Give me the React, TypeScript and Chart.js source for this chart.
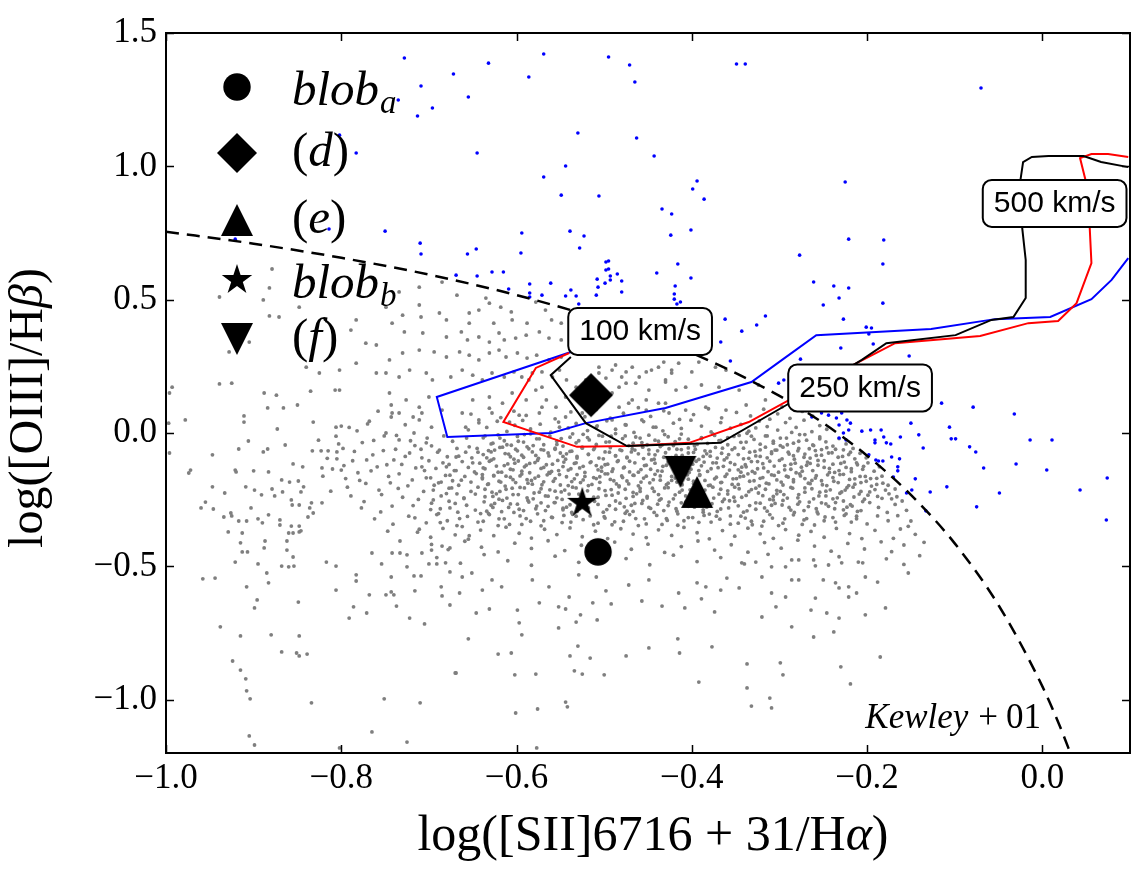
import React, { useEffect, useRef } from "react";
import { Chart, registerables } from "chart.js";

Chart.register(...registerables);

const SERIF = "'Liberation Serif', 'Times New Roman', serif";
const SANS = "'Liberation Sans', Arial, sans-serif";

// Axis ticks
const xTicks = [-1.0, -0.8, -0.6, -0.4, -0.2, 0.0];
const yTicks = [-1.0, -0.5, 0.0, 0.5, 1.0, 1.5];

// Kewley et al. (2001) maximum-starburst line for [SII]/Halpha
const kewleyX = [-1.0, -0.9, -0.8, -0.7, -0.6, -0.5, -0.4, -0.3, -0.25, -0.2, -0.15, -0.1, -0.05, 0.0, 0.02, 0.035];
const kewleyY = [0.755, 0.71, 0.657, 0.594, 0.517, 0.422, 0.3, 0.139, 0.037, -0.085, -0.232, -0.414, -0.646, -0.95, -1.1, -1.226];
const kewleyLabel = { x: -0.202, y: -1.106 };

// Shock model tracks (100 -> 500 km/s)
const shockBlack: [number, number][] = [
  [-0.538, 0.285], [-0.561, 0.217], [-0.521, 0.037], [-0.474, -0.049], [-0.367, -0.037], [-0.292, 0.105],
  [-0.206, 0.274], [-0.178, 0.337], [-0.099, 0.367], [-0.058, 0.424], [-0.033, 0.435], [-0.019, 0.506],
  [-0.019, 0.649], [-0.023, 0.769], [-0.025, 0.949], [-0.022, 1.016], [-0.012, 1.035], [0.007, 1.039],
  [0.047, 1.039], [0.067, 1.016], [0.098, 0.997],
];
const shockRed: [number, number][] = [
  [-0.54, 0.3], [-0.578, 0.244], [-0.615, 0.041], [-0.531, -0.052], [-0.474, -0.049], [-0.403, -0.037],
  [-0.335, 0.041], [-0.212, 0.262], [-0.168, 0.337], [-0.071, 0.364], [-0.016, 0.412], [0.018, 0.42],
  [0.039, 0.487], [0.056, 0.637], [0.054, 0.772], [0.049, 0.952], [0.043, 1.031], [0.056, 1.046],
  [0.075, 1.046], [0.098, 1.035],
];
const shockBlue: [number, number][] = [
  [-0.538, 0.304], [-0.691, 0.135], [-0.679, -0.015], [-0.56, 0.0], [-0.521, 0.037], [-0.43, 0.094],
  [-0.332, 0.191], [-0.297, 0.274], [-0.258, 0.367], [-0.127, 0.39], [-0.054, 0.427], [0.009, 0.435],
  [0.056, 0.502], [0.079, 0.574], [0.098, 0.656],
];

const velocityText = ["100 km/s", "250 km/s", "500 km/s"];
const velocityX = [-0.459, -0.208, 0.014];
const velocityY = [0.381, 0.169, 0.861];

// Individual regions
const regionNames = ["blob_a", "(d)", "(e)", "blob_b", "(f)"];
const regionX = [-0.507, -0.515, -0.394, -0.525, -0.413];
const regionY = [-0.446, 0.142, -0.221, -0.262, -0.146];

// Galaxies above the Kewley line
const agnPts: [number, number][] = [
  [-0.728,1.406],[-0.709,1.301],[-0.735,1.249],[-0.713,1.189],[-0.696,1.219],[-0.672,1.346],[-0.655,1.26],[-0.632,1.387],
  [-0.645,1.05],[-0.586,1.335],[-0.569,1.421],[-0.495,1.41],[-0.471,1.38],[-0.465,1.316],[-0.53,1.125],[-0.463,1.106],
  [-0.443,1.039],[-0.569,0.96],[-0.544,1.001],[-0.549,0.892],[-0.506,0.889],[-0.399,0.915],[-0.394,0.945],[-0.386,0.877],
  [-0.434,0.84],[-0.423,0.821],[-0.401,0.761],[-0.424,0.742],[-0.349,1.384],[-0.339,1.384],[-0.71,0.712],[-0.709,0.671],
  [-0.656,0.671],[-0.646,0.69],[-0.594,0.75],[-0.595,0.675],[-0.539,0.757],[-0.523,0.739],[-0.528,0.694],[-0.669,0.592],
  [-0.645,0.589],[-0.628,0.604],[-0.615,0.604],[-0.609,0.54],[-0.585,0.559],[-0.585,0.525],[-0.585,0.51],[-0.571,0.517],
  [-0.561,0.562],[-0.544,0.514],[-0.538,0.536],[-0.532,0.514],[-0.529,0.484],[-0.509,0.517],[-0.508,0.577],[-0.507,0.547],
  [-0.499,0.562],[-0.498,0.641],[-0.495,0.645],[-0.498,0.611],[-0.495,0.615],[-0.493,0.574],[-0.493,0.589],[-0.485,0.596],
  [-0.48,0.57],[-0.48,0.529],[-0.44,0.6],[-0.416,0.634],[-0.401,0.581],[-0.419,0.551],[-0.42,0.521],[-0.42,0.502],
  [-0.417,0.484],[-0.413,0.491],[-0.362,0.427],[-0.343,0.382],[-0.326,0.405],[-0.316,0.439],[-0.367,0.341],[-0.802,1.117],
  [-0.783,1.05],[-0.814,0.765],[-0.75,0.757],[-0.921,0.727],[-0.07,1.294],[-0.225,0.941],[-0.221,0.727],[-0.181,0.724],
  [-0.277,0.667],[-0.182,0.634],[-0.261,0.566],[-0.238,0.551],[-0.221,0.544],[-0.232,0.506],[-0.25,0.48],[-0.182,0.487],
  [-0.227,0.427],[-0.201,0.397],[-0.195,0.394],[-0.198,0.371],[-0.193,0.334],[-0.23,0.319],[-0.152,0.289],[-0.276,0.277],
  [-0.356,0.27],[-0.301,0.187],[-0.295,0.199],[-0.263,0.06],[-0.252,0.075],[-0.244,0.067],[-0.235,0.056],[-0.229,0.075],
  [-0.232,0.03],[-0.223,0.049],[-0.219,0.037],[-0.221,0.011],[-0.227,0.0],[-0.232,-0.019],[-0.224,-0.026],[-0.206,0.007],
  [-0.196,0.011],[-0.184,0.011],[-0.191,-0.026],[-0.191,-0.037],[-0.181,-0.015],[-0.178,-0.037],[-0.173,-0.041],[-0.162,-0.015],
  [-0.15,0.037],[-0.141,-0.007],[-0.136,-0.056],[-0.115,0.112],[-0.106,0.022],[-0.104,-0.022],[-0.099,-0.022],[-0.079,0.097],
  [-0.083,-0.052],[-0.076,-0.071],[-0.032,0.071],[-0.014,-0.026],[-0.198,-0.082],[-0.19,-0.101],[-0.187,-0.105],[-0.182,-0.105],
  [-0.172,-0.09],[-0.163,-0.097],[-0.165,-0.127],[-0.165,-0.142],[-0.17,-0.165],[-0.145,-0.172],[-0.155,-0.225],[-0.149,-0.214],
  [-0.128,-0.221],[-0.109,-0.202],[-0.133,-0.292],[-0.075,-0.277],[-0.067,-0.131],[-0.049,-0.225],[-0.03,-0.116],[0.011,-0.026],
  [0.005,-0.139],[0.043,-0.214],[0.074,-0.169],[0.073,-0.326],
];

// Star-forming galaxies: outer left halo
const sfLeftHalo: [number, number][] = [
  [-0.996,0.15],[-0.993,0.172],[-0.939,0.184],[-0.925,0.187],[-0.888,0.15],[-0.874,0.142],[-0.884,0.094],[-0.866,0.094],
  [-0.85,0.105],[-0.835,0.157],[-0.807,0.161],[-0.802,0.161],[-0.978,0.049],[-0.997,0.037],[-0.911,0.064],[-0.911,0.041],
  [-0.832,0.041],[-0.873,0.015],[-0.806,0.022],[-0.8,0.026],[-0.77,0.034],[-0.758,0.082],[-0.742,0.075],[-0.743,0.105],
  [-0.718,0.06],[-0.708,0.075],[-0.996,-0.075],[-0.947,-0.082],[-0.906,-0.03],[-0.917,-0.06],[-0.864,-0.045],[-0.889,-0.071],
  [-0.884,-0.06],[-0.833,-0.067],[-0.823,-0.067],[-0.815,-0.067],[-0.805,-0.071],[-0.805,-0.097],[-0.974,-0.15],[-0.972,-0.139],
  [-0.921,-0.139],[-0.92,-0.146],[-0.9,-0.142],[-0.883,-0.146],[-0.855,-0.116],[-0.844,-0.127],[-0.822,-0.131],[-0.81,-0.135],
  [-0.8,-0.139],[-0.947,-0.202],[-0.933,-0.225],[-0.909,-0.202],[-0.899,-0.214],[-0.891,-0.232],[-0.879,-0.21],[-0.867,-0.221],
  [-0.876,-0.236],[-0.868,-0.176],[-0.859,-0.184],[-0.849,-0.18],[-0.843,-0.202],[-0.846,-0.221],[-0.857,-0.251],[-0.856,-0.27],
  [-0.848,-0.27],[-0.96,-0.281],[-0.955,-0.259],[-0.946,-0.285],[-0.934,-0.315],[-0.926,-0.3],[-0.925,-0.311],[-0.917,-0.33],
  [-0.908,-0.33],[-0.895,-0.322],[-0.903,-0.281],[-0.883,-0.307],[-0.89,-0.337],[-0.87,-0.326],[-0.87,-0.345],[-0.857,-0.349],
  [-0.848,-0.349],[-0.846,-0.367],[-0.838,-0.315],[-0.832,-0.3],[-0.836,-0.281],[-0.834,-0.262],[-0.822,-0.262],[-0.929,-0.371],
  [-0.913,-0.375],[-0.86,-0.375],[-0.855,-0.375],[-0.848,-0.371],[-0.915,-0.412],[-0.887,-0.405],[-0.888,-0.431],[-0.913,-0.446],
  [-0.907,-0.446],[-0.921,-0.484],[-0.862,-0.405],[-0.862,-0.439],[-0.855,-0.465],[-0.868,-0.499],[-0.86,-0.502],[-0.854,-0.499],
  [-0.895,-0.491],[-0.958,-0.547],[-0.944,-0.544],[-0.885,-0.525],[-0.908,-0.577],[-0.883,-0.562],[-0.896,-0.626],[-0.899,-0.656],
  [-0.849,-0.634],[-0.938,-0.727],[-0.915,-0.761],[-0.88,-0.757],[-0.848,-0.761],[-0.868,-0.821],[-0.851,-0.825],[-0.848,-0.836],
  [-0.839,-0.829],[-0.924,-0.855],[-0.915,-0.889],[-0.909,-0.922],[-0.908,-0.967],[-0.904,-0.997],[-0.834,-1.012],[-0.905,-1.136],
  [-0.899,-1.17],[-0.802,-1.181],[-0.765,-1.121],[-0.725,-1.159],[-0.751,-0.997],[-0.71,-1.012],[-0.67,-0.9],[-0.705,-0.716],
  [-0.722,-0.694],[-0.771,-0.675],[-0.791,-0.694],[-0.786,-0.652],[-0.737,-0.649],[-0.806,-0.589],[-0.783,-0.532],[-0.783,-0.555],
  [-0.768,-0.607],[-0.749,-0.607],[-0.743,-0.596],[-0.74,-0.607],[-0.716,-0.592],[-0.686,-0.577],[-0.685,-0.611],[-0.676,-0.645],
  [-0.717,-0.536],[-0.709,-0.536],[-0.743,-0.54],[-0.817,-0.484],[-0.806,-0.499],[-0.754,-0.491],[-0.725,-0.502],[-0.7,-0.491],
  [-0.691,-0.491],[-0.681,-0.487],[-0.676,-0.521],[-0.662,-0.54],[-0.765,-0.45],[-0.742,-0.45],[-0.733,-0.45],[-0.725,-0.457],
  [-0.708,-0.45],[-0.697,-0.439],[-0.685,-0.424],[-0.676,-0.431],
];

// Star-forming galaxies: upper spur under the Kewley line
const sfUpper: [number, number][] = [
  [-0.939,0.51],[-0.879,0.615],[-0.882,0.544],[-0.889,0.499],[-0.848,0.472],[-0.871,0.435],[-0.882,0.439],[-0.905,0.341],
  [-0.928,0.304],[-0.783,0.424],[-0.789,0.386],[-0.772,0.337],[-0.76,0.33],[-0.783,0.262],[-0.76,0.225],[-0.825,0.225],
  [-0.802,0.236],[-0.84,0.247],[-0.711,0.547],
  [-0.734,0.529],[-0.685,0.566],[-0.668,0.517],[-0.635,0.506],[-0.631,0.487],[-0.643,0.461],[-0.654,0.45],[-0.618,0.472],
  [-0.606,0.454],[-0.578,0.491],[-0.567,0.461],[-0.56,0.424],[-0.549,0.412],[-0.588,0.412],[-0.605,0.424],[-0.626,0.412],
  [-0.654,0.412],[-0.68,0.424],[-0.688,0.45],[-0.709,0.435],[-0.711,0.48],[-0.73,0.442],[-0.742,0.412],[-0.749,0.472],
  [-0.728,0.379],[-0.707,0.375],[-0.68,0.36],[-0.663,0.379],[-0.656,0.349],[-0.643,0.36],[-0.631,0.341],[-0.62,0.375],
  [-0.614,0.349],[-0.601,0.356],[-0.589,0.367],[-0.574,0.379],[-0.563,0.356],[-0.549,0.349],[-0.73,0.3],[-0.745,0.274],
  [-0.711,0.311],[-0.694,0.304],[-0.68,0.285],[-0.665,0.304],[-0.654,0.292],[-0.643,0.274],[-0.631,0.3],[-0.62,0.311],
  [-0.612,0.285],[-0.599,0.3],[-0.588,0.281],[-0.577,0.292],[-0.563,0.274],[-0.549,0.285],[-0.749,0.225],[-0.734,0.21],
  [-0.722,0.236],[-0.703,0.225],[-0.696,0.199],[-0.675,0.21],[-0.662,0.236],[-0.65,0.217],[-0.639,0.199],[-0.628,0.225],
  [-0.614,0.21],[-0.603,0.229],[-0.594,0.21],[-0.582,0.225],[-0.571,0.229],[-0.559,0.21],[-0.551,0.236],[-0.543,0.199],
  [-0.745,0.15],[-0.726,0.124],[-0.734,0.075],[-0.711,0.097],[-0.7,0.135],[-0.685,0.086],[-0.711,0.049],[-0.743,0.06],
  [-0.749,0.0],[-0.734,-0.026],[-0.717,0.0],[-0.697,0.022],[-0.703,-0.037],[-0.688,-0.064],[-0.722,-0.075],[-0.74,-0.101],
  [-0.708,-0.127],[-0.68,-0.127],[-0.669,-0.09],[-0.654,-0.052],[-0.658,0.022],[-0.643,0.049],[-0.662,0.075],[-0.65,0.124],
  [-0.631,0.135],[-0.616,0.112],[-0.605,0.15],[-0.628,0.075],[-0.608,0.041],[-0.597,0.067],[-0.589,0.124],[-0.578,0.161],
  [-0.586,0.199],[-0.571,0.172],[-0.566,0.124],[-0.574,0.075],[-0.555,0.097],[-0.544,0.135],[-0.544,0.06],[-0.551,0.022],
  [-0.532,0.172],[-0.521,0.199],[-0.506,0.225],[-0.491,0.236],[-0.48,0.21],[-0.468,0.247],[-0.452,0.229],[-0.438,0.247],
  [-0.423,0.236],[-0.483,0.172],[-0.464,0.187],[-0.449,0.161],[-0.43,0.199],[-0.418,0.161],[-0.483,0.097],[-0.468,0.124],
  [-0.452,0.086],[-0.438,0.112],[-0.426,0.075],[-0.491,0.049],[-0.475,0.03],[-0.457,0.049],[-0.441,0.022],[-0.509,0.022],
  [-0.525,0.075],
  [-0.432,0.266],[-0.415,0.262],[-0.373,0.247],[-0.361,0.236],[-0.324,0.18],[-0.346,0.161],[-0.369,0.172],[-0.389,0.18],
  [-0.407,0.172],[-0.43,0.191],[-0.316,0.124],[-0.338,0.105],[-0.361,0.086],[-0.384,0.097],[-0.407,0.086],[-0.43,0.112],
  [-0.452,0.124],[-0.472,0.112],[-0.491,0.15],[-0.475,0.187],[-0.498,0.206],[-0.506,0.247],[-0.487,0.255],[-0.475,0.229],
  [-0.46,0.21],[-0.446,0.236],[-0.423,0.225],[-0.4,0.229],[-0.392,0.266],
];

// Star-forming galaxies: main sequence band
const sfCore: [number, number][] = [
  [-0.652,0.071],[-0.631,0.093],[-0.618,0.058],[-0.603,0.082],[-0.589,0.066],[-0.571,0.097],[-0.556,0.053],[-0.538,0.079],
  [-0.522,0.061],[-0.509,0.088],[-0.493,0.056],[-0.478,0.074],[-0.461,0.095],[-0.447,0.062],[-0.432,0.083],[-0.414,0.051],
  [-0.398,0.069],[-0.381,0.091],[-0.366,0.057],[-0.349,0.077],[-0.333,0.064],[-0.318,0.089],[-0.302,0.072],[-0.288,0.055],
  [-0.274,0.081],[-0.262,0.063],[-0.311,0.052],[-0.297,0.098],[-0.283,0.092],
  [-0.655,0.012],[-0.643,0.038],[-0.634,0.021],[-0.622,0.044],[-0.611,0.006],[-0.602,0.029],[-0.593,0.047],[-0.584,0.015],
  [-0.573,0.033],[-0.561,0.003],[-0.552,0.041],[-0.541,0.019],[-0.532,0.036],[-0.519,0.009],[-0.508,0.027],[-0.497,0.046],
  [-0.487,0.014],[-0.476,0.031],[-0.466,0.002],[-0.455,0.043],[-0.444,0.022],[-0.433,0.008],[-0.421,0.037],[-0.412,0.017],
  [-0.401,0.048],[-0.389,0.026],[-0.378,0.004],[-0.367,0.039],[-0.356,0.018],[-0.344,0.032],[-0.335,0.007],[-0.323,0.045],
  [-0.314,0.024],[-0.302,0.011],[-0.293,0.039],[-0.281,0.021],[-0.272,0.048],[-0.263,0.005],[-0.254,0.028],[-0.246,0.014],
  [-0.327,0.019],[-0.286,0.002],
  [-0.638,-0.018],[-0.629,-0.041],[-0.621,-0.007],[-0.614,-0.029],[-0.606,-0.046],[-0.599,-0.013],[-0.592,-0.034],[-0.584,-0.003],
  [-0.577,-0.022],[-0.569,-0.044],[-0.562,-0.011],[-0.554,-0.031],[-0.547,-0.049],[-0.539,-0.016],[-0.532,-0.037],[-0.524,-0.005],
  [-0.517,-0.026],[-0.509,-0.043],[-0.502,-0.012],[-0.494,-0.033],[-0.487,-0.002],[-0.479,-0.021],[-0.472,-0.047],[-0.464,-0.015],
  [-0.457,-0.036],[-0.449,-0.008],[-0.442,-0.027],[-0.434,-0.045],[-0.427,-0.014],[-0.419,-0.032],[-0.412,-0.004],[-0.404,-0.023],
  [-0.397,-0.048],[-0.389,-0.017],[-0.382,-0.039],[-0.374,-0.009],[-0.367,-0.028],[-0.359,-0.044],[-0.352,-0.013],[-0.344,-0.035],
  [-0.337,-0.001],[-0.329,-0.024],[-0.322,-0.042],[-0.314,-0.011],[-0.307,-0.031],[-0.299,-0.047],[-0.292,-0.019],[-0.284,-0.038],
  [-0.277,-0.006],[-0.269,-0.027],[-0.262,-0.045],[-0.254,-0.015],[-0.247,-0.033],[-0.239,-0.049],[-0.232,-0.021],[-0.224,-0.041],
  [-0.216,-0.058],
  [-0.658,-0.072],[-0.651,-0.093],[-0.645,-0.058],[-0.638,-0.081],[-0.632,-0.066],[-0.626,-0.097],[-0.619,-0.054],[-0.613,-0.077],
  [-0.607,-0.089],[-0.601,-0.061],[-0.594,-0.083],[-0.588,-0.052],[-0.582,-0.071],[-0.575,-0.095],[-0.569,-0.064],[-0.563,-0.086],
  [-0.556,-0.057],[-0.55,-0.075],[-0.544,-0.098],[-0.537,-0.068],[-0.531,-0.088],[-0.525,-0.053],[-0.518,-0.079],[-0.512,-0.062],
  [-0.506,-0.094],[-0.499,-0.071],[-0.493,-0.055],[-0.487,-0.085],[-0.48,-0.066],[-0.474,-0.091],[-0.468,-0.059],[-0.461,-0.078],
  [-0.455,-0.096],[-0.449,-0.063],[-0.442,-0.082],[-0.436,-0.051],[-0.43,-0.074],[-0.423,-0.092],[-0.417,-0.061],[-0.411,-0.084],
  [-0.404,-0.056],[-0.398,-0.073],[-0.392,-0.099],[-0.385,-0.067],[-0.379,-0.087],[-0.373,-0.054],[-0.366,-0.076],[-0.36,-0.093],
  [-0.354,-0.062],[-0.347,-0.081],[-0.341,-0.057],[-0.335,-0.095],[-0.328,-0.069],[-0.322,-0.088],[-0.316,-0.053],[-0.309,-0.077],
  [-0.303,-0.064],[-0.297,-0.097],[-0.29,-0.072],[-0.284,-0.085],[-0.278,-0.058],[-0.271,-0.079],[-0.265,-0.094],[-0.259,-0.066],
  [-0.252,-0.083],[-0.246,-0.055],[-0.24,-0.074],[-0.233,-0.091],[-0.227,-0.063],[-0.221,-0.081],[-0.214,-0.097],[-0.208,-0.076],
  [-0.201,-0.093],
  [-0.677,-0.118],[-0.669,-0.141],[-0.662,-0.107],[-0.655,-0.129],[-0.648,-0.146],[-0.642,-0.113],[-0.636,-0.134],[-0.629,-0.102],
  [-0.623,-0.124],[-0.617,-0.147],[-0.61,-0.116],[-0.604,-0.138],[-0.598,-0.105],[-0.591,-0.127],[-0.585,-0.149],[-0.579,-0.111],
  [-0.572,-0.133],[-0.566,-0.119],[-0.56,-0.144],[-0.553,-0.103],[-0.547,-0.126],[-0.541,-0.139],[-0.534,-0.114],[-0.528,-0.131],
  [-0.522,-0.148],[-0.515,-0.108],[-0.509,-0.122],[-0.503,-0.143],[-0.496,-0.117],[-0.49,-0.135],[-0.484,-0.104],[-0.477,-0.128],
  [-0.471,-0.146],[-0.465,-0.112],[-0.458,-0.137],[-0.452,-0.121],[-0.446,-0.101],[-0.439,-0.142],[-0.433,-0.125],[-0.427,-0.109],
  [-0.42,-0.132],[-0.414,-0.149],[-0.408,-0.115],[-0.401,-0.136],[-0.395,-0.106],[-0.389,-0.123],[-0.382,-0.144],[-0.376,-0.112],
  [-0.37,-0.13],[-0.363,-0.101],[-0.357,-0.139],[-0.351,-0.118],[-0.344,-0.147],[-0.338,-0.127],[-0.332,-0.107],[-0.325,-0.134],
  [-0.319,-0.115],[-0.313,-0.145],[-0.306,-0.124],[-0.3,-0.103],[-0.294,-0.138],[-0.287,-0.117],[-0.281,-0.149],[-0.275,-0.128],
  [-0.268,-0.109],[-0.262,-0.141],[-0.256,-0.121],[-0.249,-0.104],[-0.243,-0.133],[-0.237,-0.148],[-0.23,-0.114],[-0.224,-0.129],
  [-0.218,-0.145],[-0.211,-0.119],[-0.205,-0.136],[-0.199,-0.112],[-0.192,-0.143],[-0.186,-0.127],
  [-0.698,-0.168],[-0.689,-0.187],[-0.681,-0.159],[-0.673,-0.179],[-0.666,-0.196],[-0.659,-0.163],[-0.652,-0.184],[-0.646,-0.152],
  [-0.639,-0.172],[-0.633,-0.193],[-0.626,-0.161],[-0.62,-0.181],[-0.613,-0.199],[-0.607,-0.166],[-0.601,-0.186],[-0.594,-0.154],
  [-0.588,-0.175],[-0.582,-0.192],[-0.575,-0.162],[-0.569,-0.183],[-0.562,-0.151],[-0.556,-0.171],[-0.55,-0.195],[-0.543,-0.164],
  [-0.537,-0.182],[-0.531,-0.156],[-0.524,-0.176],[-0.518,-0.197],[-0.512,-0.167],[-0.505,-0.185],[-0.499,-0.153],[-0.493,-0.174],
  [-0.486,-0.191],[-0.48,-0.161],[-0.474,-0.18],[-0.467,-0.158],[-0.461,-0.198],[-0.455,-0.169],[-0.448,-0.187],[-0.442,-0.155],
  [-0.436,-0.177],[-0.429,-0.194],[-0.423,-0.163],[-0.417,-0.184],[-0.41,-0.152],[-0.404,-0.173],[-0.398,-0.189],[-0.391,-0.159],
  [-0.385,-0.178],[-0.379,-0.196],[-0.372,-0.166],[-0.366,-0.185],[-0.36,-0.154],[-0.353,-0.172],[-0.347,-0.193],[-0.341,-0.162],
  [-0.334,-0.181],[-0.328,-0.15],[-0.322,-0.17],[-0.315,-0.188],[-0.309,-0.157],[-0.303,-0.176],[-0.296,-0.195],[-0.29,-0.165],
  [-0.284,-0.183],[-0.277,-0.153],[-0.271,-0.171],[-0.265,-0.19],[-0.258,-0.16],[-0.252,-0.179],[-0.246,-0.197],[-0.239,-0.167],
  [-0.233,-0.186],[-0.227,-0.155],[-0.22,-0.174],[-0.214,-0.192],[-0.208,-0.163],[-0.201,-0.181],[-0.195,-0.199],[-0.189,-0.17],
  [-0.182,-0.188],[-0.176,-0.196],
  [-0.695,-0.214],[-0.686,-0.236],[-0.677,-0.207],[-0.668,-0.228],[-0.66,-0.246],[-0.652,-0.219],[-0.644,-0.203],[-0.636,-0.239],
  [-0.628,-0.222],[-0.62,-0.248],[-0.612,-0.211],[-0.604,-0.231],[-0.596,-0.204],[-0.588,-0.243],[-0.58,-0.225],[-0.572,-0.209],
  [-0.564,-0.237],[-0.556,-0.218],[-0.548,-0.249],[-0.54,-0.229],[-0.532,-0.206],[-0.507,-0.241],[-0.499,-0.216],[-0.491,-0.233],
  [-0.483,-0.202],[-0.475,-0.245],[-0.467,-0.223],[-0.459,-0.208],[-0.451,-0.238],[-0.443,-0.219],[-0.435,-0.247],[-0.427,-0.205],
  [-0.419,-0.232],[-0.411,-0.214],[-0.375,-0.244],[-0.367,-0.211],[-0.359,-0.229],[-0.351,-0.203],[-0.343,-0.241],[-0.335,-0.22],
  [-0.327,-0.207],[-0.319,-0.235],[-0.311,-0.249],[-0.303,-0.215],[-0.295,-0.231],[-0.287,-0.204],[-0.279,-0.243],[-0.271,-0.222],
  [-0.263,-0.209],[-0.255,-0.236],[-0.247,-0.218],[-0.239,-0.247],[-0.231,-0.226],[-0.223,-0.205],[-0.215,-0.24],[-0.207,-0.219],
  [-0.199,-0.233],[-0.191,-0.212],[-0.183,-0.245],[-0.175,-0.228],[-0.166,-0.239],
  [-0.697,-0.263],[-0.687,-0.284],[-0.677,-0.256],[-0.667,-0.297],[-0.657,-0.271],[-0.647,-0.289],[-0.637,-0.258],[-0.627,-0.279],
  [-0.617,-0.295],[-0.607,-0.266],[-0.597,-0.286],[-0.587,-0.253],[-0.577,-0.274],[-0.567,-0.291],[-0.557,-0.261],[-0.547,-0.282],
  [-0.537,-0.298],[-0.507,-0.268],[-0.497,-0.287],[-0.487,-0.255],[-0.477,-0.277],[-0.467,-0.294],[-0.457,-0.264],[-0.447,-0.283],
  [-0.437,-0.252],[-0.427,-0.272],[-0.417,-0.293],[-0.407,-0.259],[-0.397,-0.278],[-0.387,-0.297],[-0.377,-0.265],[-0.367,-0.285],
  [-0.357,-0.254],[-0.347,-0.273],[-0.337,-0.292],[-0.327,-0.262],[-0.317,-0.281],[-0.307,-0.251],[-0.297,-0.27],[-0.287,-0.289],
  [-0.277,-0.258],[-0.267,-0.276],[-0.257,-0.296],[-0.247,-0.266],[-0.237,-0.284],[-0.227,-0.255],[-0.217,-0.274],[-0.207,-0.291],
  [-0.197,-0.261],[-0.187,-0.279],[-0.177,-0.298],[-0.168,-0.268],
  [-0.716,-0.318],[-0.703,-0.337],[-0.691,-0.306],[-0.679,-0.329],[-0.668,-0.347],[-0.656,-0.313],[-0.644,-0.334],[-0.632,-0.302],
  [-0.62,-0.322],[-0.608,-0.343],[-0.596,-0.311],[-0.584,-0.331],[-0.572,-0.348],[-0.56,-0.316],[-0.548,-0.336],[-0.536,-0.305],
  [-0.524,-0.325],[-0.512,-0.344],[-0.5,-0.314],[-0.488,-0.333],[-0.476,-0.301],[-0.464,-0.321],[-0.452,-0.341],[-0.44,-0.309],
  [-0.428,-0.328],[-0.416,-0.346],[-0.404,-0.317],[-0.392,-0.335],[-0.38,-0.304],[-0.368,-0.323],[-0.356,-0.342],[-0.344,-0.312],
  [-0.332,-0.331],[-0.32,-0.349],[-0.308,-0.319],[-0.296,-0.338],[-0.284,-0.307],[-0.272,-0.326],[-0.26,-0.345],[-0.248,-0.315],
  [-0.236,-0.334],[-0.224,-0.303],[-0.212,-0.322],[-0.2,-0.341],[-0.188,-0.311],[-0.176,-0.329],
  [-0.713,-0.372],[-0.698,-0.391],[-0.684,-0.358],[-0.67,-0.382],[-0.655,-0.398],[-0.641,-0.364],[-0.626,-0.385],[-0.612,-0.353],
  [-0.597,-0.376],[-0.583,-0.394],[-0.568,-0.361],[-0.554,-0.381],[-0.539,-0.356],[-0.525,-0.389],[-0.51,-0.368],[-0.496,-0.396],
  [-0.481,-0.359],[-0.467,-0.379],[-0.452,-0.392],[-0.438,-0.363],[-0.423,-0.384],[-0.409,-0.354],[-0.394,-0.374],[-0.38,-0.397],
  [-0.365,-0.366],[-0.351,-0.387],[-0.336,-0.357],[-0.322,-0.378],[-0.307,-0.395],[-0.293,-0.362],[-0.278,-0.383],[-0.264,-0.369],
  [-0.249,-0.391],[-0.235,-0.358],[-0.22,-0.377],[-0.206,-0.396],[-0.191,-0.365],
  [-0.697,-0.418],[-0.678,-0.437],[-0.659,-0.406],[-0.64,-0.428],[-0.621,-0.446],[-0.602,-0.413],[-0.583,-0.433],[-0.564,-0.404],
  [-0.545,-0.441],[-0.526,-0.421],[-0.488,-0.409],[-0.469,-0.436],[-0.45,-0.417],[-0.431,-0.448],[-0.412,-0.426],[-0.393,-0.405],
  [-0.374,-0.439],[-0.355,-0.419],[-0.336,-0.447],[-0.317,-0.411],[-0.298,-0.432],[-0.279,-0.402],[-0.26,-0.424],[-0.241,-0.443],
  [-0.222,-0.414],[-0.203,-0.435],[-0.184,-0.408],[-0.172,-0.445],
  [-0.691,-0.467],[-0.664,-0.488],[-0.637,-0.456],[-0.61,-0.479],[-0.583,-0.496],[-0.556,-0.462],[-0.529,-0.485],[-0.475,-0.471],
  [-0.448,-0.494],[-0.421,-0.458],[-0.394,-0.482],[-0.367,-0.467],[-0.34,-0.491],[-0.313,-0.455],[-0.286,-0.476],[-0.259,-0.498],
  [-0.232,-0.464],[-0.205,-0.487],[-0.178,-0.472],[-0.158,-0.493],
];

// Star-forming galaxies: densest part of the band
const sfCoreDense: [number, number][] = [
  [-0.636,-0.011],[-0.627,-0.038],[-0.619,-0.019],[-0.611,-0.044],[-0.598,-0.031],[-0.591,-0.006],[-0.581,-0.047],[-0.574,-0.022],
  [-0.554,-0.043],[-0.549,-0.021],[-0.536,-0.003],[-0.529,-0.029],[-0.519,-0.017],[-0.506,-0.009],[-0.498,-0.034],[-0.492,-0.012],
  [-0.476,-0.011],[-0.467,-0.038],[-0.459,-0.019],[-0.451,-0.044],[-0.438,-0.031],[-0.431,-0.006],[-0.421,-0.047],[-0.414,-0.022],
  [-0.394,-0.043],[-0.389,-0.021],[-0.376,-0.003],[-0.369,-0.029],[-0.359,-0.017],[-0.346,-0.009],[-0.338,-0.034],[-0.332,-0.012],
  [-0.316,-0.011],[-0.307,-0.038],[-0.299,-0.019],[-0.291,-0.044],[-0.278,-0.031],[-0.271,-0.006],[-0.261,-0.047],[-0.254,-0.022],
  [-0.634,-0.093],[-0.629,-0.071],[-0.616,-0.053],[-0.609,-0.079],[-0.603,-0.098],[-0.625,-0.064],
  [-0.599,-0.067],[-0.586,-0.059],[-0.578,-0.084],[-0.572,-0.062],[-0.564,-0.075],[-0.592,-0.091],
  [-0.556,-0.061],[-0.547,-0.088],[-0.539,-0.069],[-0.531,-0.094],[-0.525,-0.057],[-0.543,-0.078],
  [-0.518,-0.081],[-0.511,-0.056],[-0.501,-0.097],[-0.494,-0.072],[-0.487,-0.086],[-0.482,-0.063],
  [-0.474,-0.093],[-0.469,-0.071],[-0.456,-0.053],[-0.449,-0.079],[-0.443,-0.098],[-0.465,-0.064],
  [-0.439,-0.067],[-0.426,-0.059],[-0.418,-0.084],[-0.412,-0.062],[-0.404,-0.075],[-0.432,-0.091],
  [-0.396,-0.061],[-0.387,-0.088],[-0.379,-0.069],[-0.371,-0.094],[-0.365,-0.057],[-0.383,-0.078],
  [-0.358,-0.081],[-0.351,-0.056],[-0.341,-0.097],[-0.334,-0.072],[-0.327,-0.086],[-0.322,-0.063],
  [-0.314,-0.093],[-0.309,-0.071],[-0.296,-0.053],[-0.289,-0.079],[-0.283,-0.098],[-0.305,-0.064],
  [-0.279,-0.067],[-0.266,-0.059],[-0.258,-0.084],[-0.252,-0.062],[-0.244,-0.075],[-0.272,-0.091],
  [-0.236,-0.061],[-0.228,-0.088],[-0.219,-0.072],
  [-0.638,-0.131],[-0.631,-0.106],[-0.621,-0.147],[-0.614,-0.122],[-0.607,-0.136],[-0.602,-0.113],
  [-0.594,-0.143],[-0.589,-0.121],[-0.576,-0.103],[-0.569,-0.129],[-0.563,-0.148],[-0.585,-0.114],
  [-0.559,-0.117],[-0.546,-0.109],[-0.538,-0.134],[-0.532,-0.112],[-0.524,-0.125],[-0.552,-0.141],
  [-0.516,-0.111],[-0.507,-0.138],[-0.499,-0.119],[-0.491,-0.144],[-0.485,-0.107],[-0.503,-0.128],
  [-0.478,-0.131],[-0.471,-0.106],[-0.461,-0.147],[-0.454,-0.122],[-0.447,-0.136],[-0.442,-0.113],
  [-0.434,-0.143],[-0.429,-0.121],[-0.416,-0.103],[-0.409,-0.129],[-0.403,-0.148],[-0.425,-0.114],
  [-0.399,-0.117],[-0.386,-0.109],[-0.378,-0.134],[-0.372,-0.112],[-0.364,-0.125],[-0.392,-0.141],
  [-0.356,-0.111],[-0.347,-0.138],[-0.339,-0.119],[-0.331,-0.144],[-0.325,-0.107],[-0.343,-0.128],
  [-0.318,-0.131],[-0.311,-0.106],[-0.301,-0.147],[-0.294,-0.122],[-0.287,-0.136],[-0.282,-0.113],
  [-0.274,-0.143],[-0.269,-0.121],[-0.256,-0.103],[-0.249,-0.129],[-0.243,-0.148],[-0.265,-0.114],
  [-0.239,-0.117],[-0.226,-0.109],[-0.218,-0.134],[-0.212,-0.112],[-0.204,-0.125],[-0.232,-0.141],
  [-0.639,-0.167],[-0.626,-0.159],[-0.618,-0.184],[-0.612,-0.162],[-0.604,-0.175],[-0.632,-0.191],
  [-0.596,-0.161],[-0.587,-0.188],[-0.579,-0.169],[-0.571,-0.194],[-0.565,-0.157],[-0.583,-0.178],
  [-0.558,-0.181],[-0.551,-0.156],[-0.541,-0.197],[-0.534,-0.172],[-0.527,-0.186],[-0.522,-0.163],
  [-0.514,-0.193],[-0.509,-0.171],[-0.496,-0.153],[-0.489,-0.179],[-0.483,-0.198],[-0.505,-0.164],
  [-0.479,-0.167],[-0.466,-0.159],[-0.458,-0.184],[-0.452,-0.162],[-0.444,-0.175],[-0.472,-0.191],
  [-0.436,-0.161],[-0.427,-0.188],[-0.419,-0.169],[-0.411,-0.194],[-0.405,-0.157],[-0.423,-0.178],
  [-0.398,-0.181],[-0.391,-0.156],[-0.381,-0.197],[-0.374,-0.172],[-0.367,-0.186],[-0.362,-0.163],
  [-0.354,-0.193],[-0.349,-0.171],[-0.336,-0.153],[-0.329,-0.179],[-0.323,-0.198],[-0.345,-0.164],
  [-0.319,-0.167],[-0.306,-0.159],[-0.298,-0.184],[-0.292,-0.162],[-0.284,-0.175],[-0.312,-0.191],
  [-0.276,-0.161],[-0.267,-0.188],[-0.259,-0.169],[-0.251,-0.194],[-0.245,-0.157],[-0.263,-0.178],
  [-0.238,-0.181],[-0.231,-0.156],[-0.221,-0.197],[-0.214,-0.172],[-0.207,-0.186],[-0.202,-0.163],
  [-0.196,-0.171],[-0.189,-0.193],[-0.183,-0.162],
  [-0.636,-0.211],[-0.627,-0.238],[-0.619,-0.219],[-0.611,-0.244],[-0.605,-0.207],[-0.623,-0.228],
  [-0.598,-0.231],[-0.591,-0.206],[-0.581,-0.247],[-0.574,-0.222],[-0.567,-0.236],[-0.562,-0.213],
  [-0.554,-0.243],[-0.549,-0.221],[-0.536,-0.203],[-0.529,-0.229],[-0.523,-0.248],[-0.545,-0.214],
  [-0.519,-0.217],[-0.506,-0.209],[-0.498,-0.234],[-0.492,-0.212],[-0.484,-0.225],[-0.512,-0.241],
  [-0.476,-0.211],[-0.467,-0.238],[-0.459,-0.219],[-0.451,-0.244],[-0.445,-0.207],[-0.463,-0.228],
  [-0.438,-0.231],[-0.431,-0.206],[-0.421,-0.247],[-0.414,-0.222],[-0.407,-0.236],[-0.402,-0.213],
  [-0.394,-0.243],[-0.389,-0.221],[-0.376,-0.203],[-0.369,-0.229],[-0.363,-0.248],[-0.385,-0.214],
  [-0.359,-0.217],[-0.346,-0.209],[-0.338,-0.234],[-0.332,-0.212],[-0.324,-0.225],[-0.352,-0.241],
  [-0.316,-0.211],[-0.307,-0.238],[-0.299,-0.219],[-0.291,-0.244],[-0.285,-0.207],[-0.303,-0.228],
  [-0.278,-0.231],[-0.271,-0.206],[-0.261,-0.247],[-0.254,-0.222],[-0.247,-0.236],[-0.242,-0.213],
  [-0.234,-0.243],[-0.229,-0.221],[-0.216,-0.203],[-0.209,-0.229],[-0.203,-0.248],[-0.225,-0.214],
  [-0.197,-0.221],[-0.188,-0.238],[-0.179,-0.214],[-0.172,-0.247],
  [-0.634,-0.293],[-0.629,-0.271],[-0.616,-0.253],[-0.609,-0.279],[-0.603,-0.298],[-0.625,-0.264],
  [-0.599,-0.267],[-0.586,-0.259],[-0.578,-0.284],[-0.572,-0.262],[-0.564,-0.275],[-0.592,-0.291],
  [-0.556,-0.261],[-0.547,-0.288],[-0.539,-0.269],[-0.531,-0.294],[-0.525,-0.257],[-0.543,-0.278],
  [-0.518,-0.281],[-0.511,-0.256],[-0.501,-0.297],[-0.494,-0.272],[-0.487,-0.286],[-0.482,-0.263],
  [-0.474,-0.293],[-0.469,-0.271],[-0.456,-0.253],[-0.449,-0.279],[-0.443,-0.298],[-0.465,-0.264],
  [-0.439,-0.267],[-0.426,-0.259],[-0.418,-0.284],[-0.412,-0.262],[-0.404,-0.275],[-0.432,-0.291],
  [-0.396,-0.261],[-0.387,-0.288],[-0.379,-0.269],[-0.371,-0.294],[-0.365,-0.257],[-0.383,-0.278],
  [-0.358,-0.281],[-0.351,-0.256],[-0.341,-0.297],[-0.334,-0.272],[-0.327,-0.286],[-0.322,-0.263],
  [-0.314,-0.293],[-0.309,-0.271],[-0.296,-0.253],[-0.289,-0.279],[-0.283,-0.298],[-0.305,-0.264],
  [-0.279,-0.267],[-0.266,-0.259],[-0.258,-0.284],[-0.252,-0.262],[-0.244,-0.275],[-0.272,-0.291],
  [-0.236,-0.261],[-0.227,-0.288],[-0.219,-0.269],[-0.211,-0.294],[-0.205,-0.257],[-0.223,-0.278],
  [-0.638,-0.331],[-0.631,-0.306],[-0.621,-0.347],[-0.614,-0.322],[-0.594,-0.343],[-0.589,-0.321],[-0.576,-0.303],[-0.569,-0.329],
  [-0.559,-0.317],[-0.546,-0.309],[-0.538,-0.334],[-0.532,-0.312],[-0.516,-0.311],[-0.507,-0.338],[-0.499,-0.319],[-0.491,-0.344],
  [-0.478,-0.331],[-0.471,-0.306],[-0.461,-0.347],[-0.454,-0.322],[-0.434,-0.343],[-0.429,-0.321],[-0.416,-0.303],[-0.409,-0.329],
  [-0.399,-0.317],[-0.386,-0.309],[-0.378,-0.334],[-0.372,-0.312],[-0.356,-0.311],[-0.347,-0.338],[-0.339,-0.319],[-0.331,-0.344],
  [-0.318,-0.331],[-0.311,-0.306],[-0.301,-0.347],[-0.294,-0.322],[-0.274,-0.343],[-0.269,-0.321],[-0.256,-0.303],[-0.249,-0.329],
  [-0.239,-0.317],[-0.226,-0.309],[-0.218,-0.334],[-0.212,-0.312],
];

// Star-forming galaxies: left part of the band
const sfLeftBand: [number, number][] = [
  [-0.806,-0.012],[-0.798,-0.058],[-0.791,0.021],[-0.787,-0.104],[-0.781,-0.149],[-0.776,-0.036],[-0.772,-0.189],[-0.768,0.044],
  [-0.764,-0.082],[-0.759,-0.127],[-0.754,-0.231],[-0.751,-0.011],[-0.746,-0.163],[-0.742,-0.274],[-0.738,-0.061],[-0.735,-0.208],
  [-0.731,-0.118],[-0.727,0.031],[-0.723,-0.312],[-0.719,-0.176],[-0.716,-0.047],[-0.712,-0.249],[-0.708,-0.093],[-0.705,-0.141],
  [-0.702,-0.019],[-0.698,-0.287],[-0.694,-0.196],[-0.69,-0.072],[-0.687,-0.336],[-0.684,-0.112],[-0.68,-0.227],[-0.676,-0.158],
  [-0.673,-0.031],[-0.67,-0.264],[-0.666,-0.087],[-0.662,-0.351],[-0.789,-0.236],[-0.777,-0.281],[-0.762,-0.322],[-0.747,-0.368],
  [-0.733,-0.405],[-0.795,-0.171],[-0.816,-0.095],[-0.821,-0.162],[-0.826,-0.027],[-0.812,-0.218],
  [-0.803,-0.041],[-0.797,-0.122],[-0.793,-0.203],[-0.785,-0.069],[-0.782,0.008],[-0.779,-0.178],[-0.774,-0.257],[-0.771,-0.101],
  [-0.766,-0.142],[-0.763,-0.028],[-0.757,-0.214],[-0.755,-0.296],[-0.752,-0.066],[-0.748,-0.119],[-0.744,-0.187],[-0.741,-0.342],
  [-0.737,-0.009],[-0.734,-0.153],[-0.73,-0.241],[-0.727,-0.088],[-0.724,-0.198],[-0.721,-0.029],[-0.718,-0.272],[-0.715,-0.131],
  [-0.711,-0.361],[-0.709,-0.061],[-0.706,-0.219],[-0.703,-0.168],[-0.7,-0.104],[-0.697,-0.048],[-0.695,-0.251],[-0.692,-0.133],
  [-0.689,-0.302],[-0.686,-0.184],[-0.683,-0.011],[-0.679,-0.089],[-0.676,-0.281],[-0.674,-0.206],[-0.671,-0.141],[-0.668,-0.058],
  [-0.665,-0.321],[-0.663,-0.177],[-0.66,-0.243],[-0.657,-0.019],[-0.654,-0.385],[-0.65,-0.112],[-0.647,-0.229],[-0.644,-0.072],
  [-0.641,-0.302],[-0.639,-0.156],
];

// Star-forming galaxies: lower tail and right wing
const sfLower: [number, number][] = [
  [-0.669,-0.9],[-0.655,-0.772],[-0.621,-0.829],[-0.606,-0.825],[-0.602,-0.907],[-0.601,-1.05],[-0.578,-0.904],[-0.576,-1.035],
  [-0.577,-1.181],[-0.544,-1.009],[-0.542,-1.027],[-0.552,-0.731],[-0.539,-0.836],[-0.534,-0.892],[-0.525,-0.904],[-0.53,-0.799],
  [-0.516,-0.844],[-0.5,-0.907],[-0.508,-0.701],[-0.527,-0.682],[-0.532,-0.709],[-0.475,-0.836],[-0.449,-0.806],[-0.416,-0.772],
  [-0.414,-0.825],[-0.392,-0.934],[-0.377,-0.802],[-0.337,-0.866],[-0.337,-0.956],[-0.631,-0.66],[-0.646,-0.675],[-0.599,-0.664],
  [-0.597,-0.712],[-0.594,-0.757],[-0.574,-0.637],[-0.552,-0.652],[-0.544,-0.66],[-0.54,-0.615],[-0.513,-0.637],[-0.492,-0.641],
  [-0.457,-0.63],[-0.434,-0.649],[-0.408,-0.656],[-0.389,-0.622],[-0.374,-0.671],[-0.384,-0.577],[-0.367,-0.589],[-0.36,-0.544],
  [-0.346,-0.581],[-0.394,-0.562],[-0.415,-0.6],[-0.449,-0.551],[-0.472,-0.57],[-0.498,-0.592],[-0.509,-0.54],[-0.529,-0.532],
  [-0.563,-0.577],[-0.582,-0.551],[-0.617,-0.577],[-0.639,-0.589],[-0.651,-0.525],[-0.665,-0.6],[-0.628,-0.551],
  [-0.332,-1.024],[-0.309,-1.031],[-0.311,-0.994],[-0.299,-0.862],[-0.296,-0.907],[-0.23,-0.877],[-0.219,-0.941],[-0.185,-0.84],
  [-0.343,-0.487],[-0.32,-0.54],[-0.309,-0.6],[-0.293,-0.615],[-0.286,-0.551],[-0.278,-0.551],[-0.304,-0.652],[-0.32,-0.69],
  [-0.286,-0.727],[-0.261,-0.765],[-0.264,-0.664],[-0.259,-0.619],[-0.246,-0.675],[-0.238,-0.746],[-0.232,-0.694],[-0.221,-0.615],
  [-0.212,-0.6],[-0.25,-0.551],[-0.236,-0.562],[-0.232,-0.581],[-0.221,-0.577],[-0.202,-0.682],[-0.179,-0.656],[-0.202,-0.54],
  [-0.188,-0.559],[-0.153,-0.525],[-0.21,-0.484],[-0.229,-0.487],[-0.244,-0.495],[-0.261,-0.476],[-0.278,-0.476],[-0.293,-0.502],
  [-0.309,-0.502],[-0.327,-0.484],
  [-0.168,-0.21],[-0.16,-0.255],[-0.155,-0.29],[-0.15,-0.33],[-0.162,-0.36],[-0.145,-0.38],[-0.158,-0.42],[-0.14,-0.46],
  [-0.165,-0.31],[-0.153,-0.35],[-0.17,-0.395],[-0.135,-0.41],
];

const starForming = [...sfLeftHalo, ...sfUpper, ...sfCore, ...sfCoreDense, ...sfLeftBand, ...sfLower];

type Shape = "circle" | "diamond" | "triUp" | "triDown" | "star";
const markerShapes: Shape[] = ["circle", "diamond", "triUp", "star", "triDown"];
const markerStyle = {
  plotSize: [13.7, 22, 16, 16, 16],
  legendSize: [13.7, 20, 16, 16, 16],
  legendRowOffset: [54, 120, 187, 247, 306],
  legendMarkerDx: 71,
  legendTextDx: 126,
};

function traceShape(ctx: CanvasRenderingContext2D, shape: Shape, cx: number, cy: number, s: number) {
  ctx.beginPath();
  if (shape === "circle") {
    ctx.arc(cx, cy, s, 0, Math.PI * 2);
  } else if (shape === "diamond") {
    ctx.moveTo(cx, cy - s);
    ctx.lineTo(cx + s, cy);
    ctx.lineTo(cx, cy + s);
    ctx.lineTo(cx - s, cy);
  } else if (shape === "triUp") {
    ctx.moveTo(cx, cy - s);
    ctx.lineTo(cx + s, cy + s);
    ctx.lineTo(cx - s, cy + s);
  } else if (shape === "triDown") {
    ctx.moveTo(cx, cy + s);
    ctx.lineTo(cx + s, cy - s);
    ctx.lineTo(cx - s, cy - s);
  } else {
    for (let i = 0; i < 10; i++) {
      const r = i % 2 === 0 ? s : s * 0.382;
      const a = -Math.PI / 2 + (i * Math.PI) / 5;
      const px = cx + r * Math.cos(a);
      const py = cy + r * Math.sin(a);
      if (i === 0) ctx.moveTo(px, py);
      else ctx.lineTo(px, py);
    }
  }
  ctx.closePath();
}

function makeMarker(shape: Shape, s: number) {
  const c = document.createElement("canvas");
  const n = Math.ceil(s) * 2 + 4;
  c.width = n;
  c.height = n;
  const g = c.getContext("2d")!;
  g.fillStyle = "#000";
  traceShape(g, shape, n / 2, n / 2, s);
  g.fill();
  return c;
}

function roundedBox(ctx: CanvasRenderingContext2D, x: number, y: number, w: number, h: number, r: number) {
  ctx.beginPath();
  ctx.moveTo(x + r, y);
  ctx.arcTo(x + w, y, x + w, y + h, r);
  ctx.arcTo(x + w, y + h, x, y + h, r);
  ctx.arcTo(x, y + h, x, y, r);
  ctx.arcTo(x, y, x + w, y, r);
  ctx.closePath();
}

type Run = { t: string; it?: boolean };
function runsWidth(ctx: CanvasRenderingContext2D, runs: Run[], size: number) {
  let w = 0;
  runs.forEach((r) => {
    ctx.font = `${r.it ? "italic " : ""}${size}px ${SERIF}`;
    w += ctx.measureText(r.t).width;
  });
  return w;
}
function drawRuns(ctx: CanvasRenderingContext2D, runs: Run[], size: number, x: number, y: number) {
  let px = x;
  runs.forEach((r) => {
    ctx.font = `${r.it ? "italic " : ""}${size}px ${SERIF}`;
    ctx.fillText(r.t, px, y);
    px += ctx.measureText(r.t).width;
  });
}

const fmtTick = (v: number) => (v < 0 ? "\u2212" : "") + Math.abs(v).toFixed(1);

const annotations = {
  id: "annotations",
  afterDatasetsDraw(chart: any) {
    const { ctx, chartArea: a, scales } = chart;
    const xs = scales.x;
    const ys = scales.y;
    ctx.save();
    ctx.fillStyle = "#000";

    // velocity labels on the shock tracks
    ctx.font = `30px ${SANS}`;
    velocityText.forEach((t, i) => {
      const cx = xs.getPixelForValue(velocityX[i]);
      const cy = ys.getPixelForValue(velocityY[i]);
      const tw = ctx.measureText(t).width;
      const w = tw + 22;
      const h = 47;
      roundedBox(ctx, cx - w / 2, cy - h / 2, w, h, 9);
      ctx.fillStyle = "#fff";
      ctx.fill();
      ctx.lineWidth = 2;
      ctx.strokeStyle = "#000";
      ctx.stroke();
      ctx.fillStyle = "#000";
      ctx.textAlign = "center";
      ctx.textBaseline = "alphabetic";
      ctx.fillText(t, cx, cy + 9);
    });

    // Kewley+01 label
    ctx.textAlign = "left";
    ctx.textBaseline = "alphabetic";
    const kx = xs.getPixelForValue(kewleyLabel.x);
    const ky = ys.getPixelForValue(kewleyLabel.y);
    ctx.font = `italic 35px ${SERIF}`;
    ctx.fillText("Kewley", kx, ky);
    let kx2 = kx + ctx.measureText("Kewley").width + 10;
    ctx.font = `35px ${SERIF}`;
    ctx.fillText("+", kx2, ky);
    kx2 += ctx.measureText("+").width + 8;
    ctx.fillText("01", kx2, ky);

    // legend
    regionNames.forEach((name, i) => {
      const cy = a.top + markerStyle.legendRowOffset[i];
      const mx = a.left + markerStyle.legendMarkerDx;
      const tx = a.left + markerStyle.legendTextDx;
      traceShape(ctx, markerShapes[i], mx, cy, markerStyle.legendSize[i]);
      ctx.fill();
      if (name.startsWith("blob_")) {
        ctx.font = `italic 49px ${SERIF}`;
        ctx.fillText("blob", tx, cy + 18);
        const bw = ctx.measureText("blob").width;
        ctx.font = `italic 33px ${SERIF}`;
        ctx.fillText(name.slice(5), tx + bw + 1, cy + 26);
      } else {
        const letter = name.slice(1, -1);
        drawRuns(ctx, [{ t: "(" }, { t: letter, it: true }, { t: ")" }], 49, tx, cy + 13);
      }
    });

    // axis titles
    const xRuns: Run[] = [{ t: "log([SII]6716 + 31/H" }, { t: "\u03b1", it: true }, { t: ")" }];
    const xw = runsWidth(ctx, xRuns, 50);
    drawRuns(ctx, xRuns, 50, (a.left + a.right) / 2 + 5 - xw / 2, a.bottom + 97);

    const yRuns: Run[] = [{ t: "log([OIII]/H" }, { t: "\u03b2", it: true }, { t: ")" }];
    const yw = runsWidth(ctx, yRuns, 48);
    ctx.translate(41.5, (a.top + a.bottom) / 2 + 15);
    ctx.rotate(-Math.PI / 2);
    drawRuns(ctx, yRuns, 48, -yw / 2, 0);
    ctx.restore();
  },
};

const frame = {
  id: "frame",
  afterDraw(chart: any) {
    const { ctx, chartArea: a, scales } = chart;
    ctx.save();
    ctx.strokeStyle = "#000";
    ctx.lineWidth = 1.5;
    const len = 8;
    ctx.beginPath();
    xTicks.forEach((v) => {
      const px = Math.round(scales.x.getPixelForValue(v)) + 0.5;
      ctx.moveTo(px, a.bottom);
      ctx.lineTo(px, a.bottom - len);
      ctx.moveTo(px, a.top);
      ctx.lineTo(px, a.top + len);
    });
    yTicks.forEach((v) => {
      const py = Math.round(scales.y.getPixelForValue(v)) + 0.5;
      ctx.moveTo(a.left, py);
      ctx.lineTo(a.left + len, py);
      ctx.moveTo(a.right, py);
      ctx.lineTo(a.right - len, py);
    });
    ctx.stroke();
    ctx.lineWidth = 2;
    ctx.strokeRect(a.left, a.top, a.right - a.left, a.bottom - a.top);
    ctx.restore();
  },
};

const toXY = (pts: [number, number][]) => pts.map(([x, y]) => ({ x, y }));

export default function App() {
  const ref = useRef<HTMLCanvasElement>(null);

  useEffect(() => {
    const canvas = ref.current;
    if (!canvas) return;

    const regionSets = regionNames.map((name, i) => ({
      label: name,
      data: [{ x: regionX[i], y: regionY[i] }],
      pointStyle: makeMarker(markerShapes[i], markerStyle.plotSize[i]),
      pointRadius: 12,
      order: 0,
    }));

    const chart = new Chart(canvas, {
      type: "scatter",
      data: {
        datasets: [
          ...regionSets,
          {
            label: "Kewley+01",
            data: kewleyX.map((x, i) => ({ x, y: kewleyY[i] })),
            showLine: true,
            borderColor: "#000",
            borderWidth: 2.5,
            borderDash: [13, 8],
            pointRadius: 0,
            cubicInterpolationMode: "monotone",
            order: 1,
          },
          {
            label: "shock black",
            data: toXY(shockBlack),
            showLine: true,
            borderColor: "#000",
            borderWidth: 2,
            pointRadius: 0,
            order: 2,
          },
          {
            label: "shock red",
            data: toXY(shockRed),
            showLine: true,
            borderColor: "#ff0000",
            borderWidth: 2,
            pointRadius: 0,
            order: 3,
          },
          {
            label: "shock blue",
            data: toXY(shockBlue),
            showLine: true,
            borderColor: "#0000ff",
            borderWidth: 2,
            pointRadius: 0,
            order: 4,
          },
          {
            label: "AGN",
            data: toXY(agnPts),
            backgroundColor: "#0000ff",
            borderWidth: 0,
            pointRadius: 1.8,
            order: 5,
          },
          {
            label: "star-forming",
            data: toXY(starForming),
            backgroundColor: "#7f7f7f",
            borderWidth: 0,
            pointRadius: 1.9,
            order: 6,
          },
        ] as any,
      },
      options: {
        animation: false,
        responsive: false,
        devicePixelRatio: 1,
        events: [],
        layout: { padding: { left: 0, top: 33, right: 13, bottom: 0 } },
        plugins: { legend: { display: false }, tooltip: { enabled: false } },
        scales: {
          x: {
            type: "linear",
            min: -1.0,
            max: 0.1,
            grid: { display: false, drawTicks: false },
            border: { display: false },
            ticks: {
              color: "#000",
              font: { family: SERIF, size: 35 },
              padding: 5,
              maxRotation: 0,
              autoSkip: false,
              callback: (v: any) => fmtTick(Number(v)),
            },
            afterBuildTicks: (s: any) => {
              s.ticks = xTicks.map((value) => ({ value }));
            },
            afterFit: (s: any) => {
              s.height = 126;
            },
          },
          y: {
            type: "linear",
            min: -1.2,
            max: 1.5,
            grid: { display: false, drawTicks: false },
            border: { display: false },
            ticks: {
              color: "#000",
              font: { family: SERIF, size: 35 },
              padding: 9,
              autoSkip: false,
              callback: (v: any) => fmtTick(Number(v)),
            },
            afterBuildTicks: (s: any) => {
              s.ticks = yTicks.map((value) => ({ value }));
            },
            afterFit: (s: any) => {
              s.width = 166;
            },
          },
        },
      } as any,
      plugins: [annotations, frame],
    });

    return () => chart.destroy();
  }, []);

  return (
    <div style={{ position: "absolute", left: 0, top: 0, width: 1143, height: 879, background: "#fff" }}>
      <canvas ref={ref} width={1143} height={879} style={{ display: "block" }} />
    </div>
  );
}
